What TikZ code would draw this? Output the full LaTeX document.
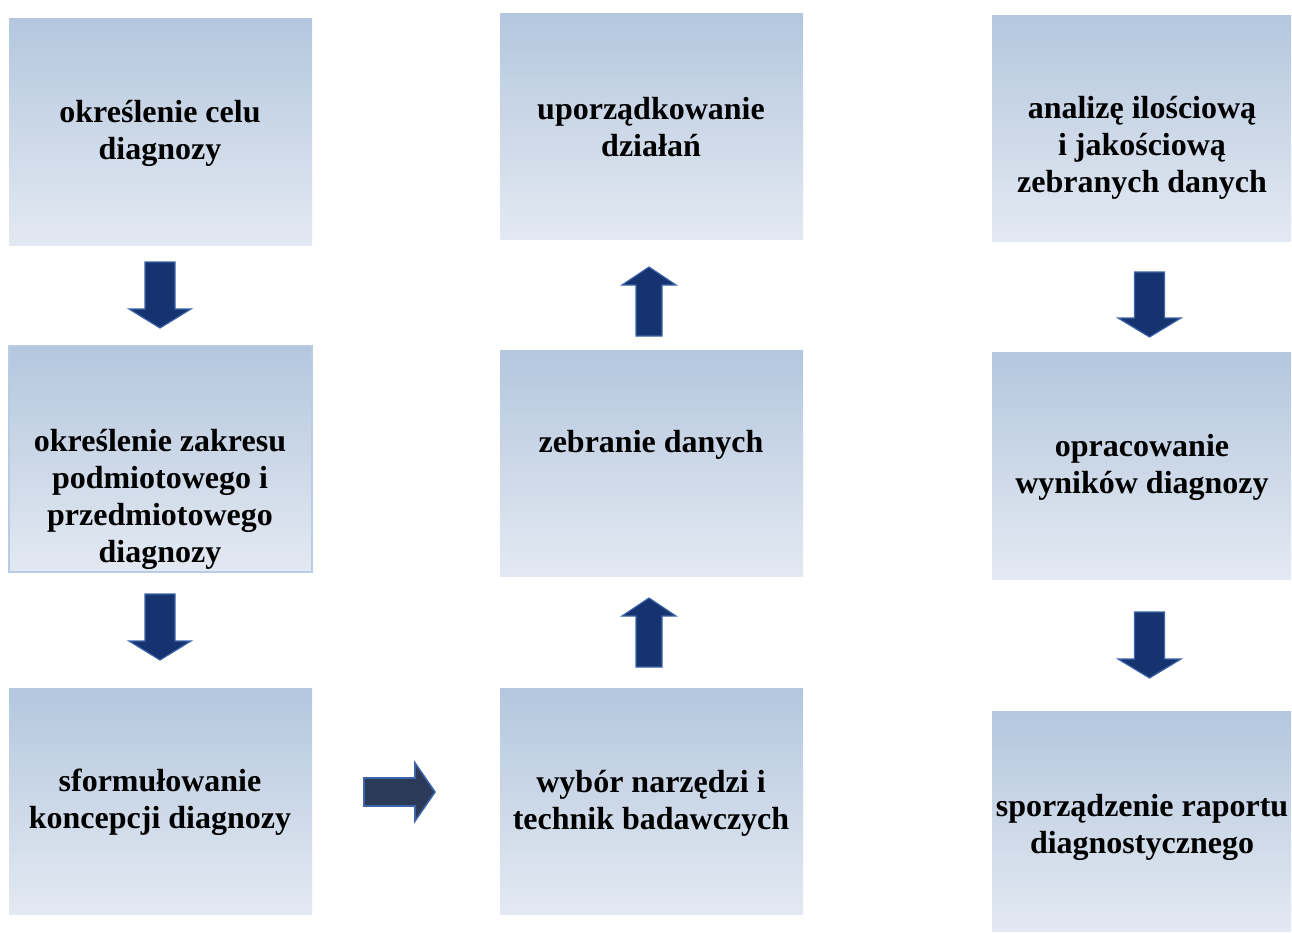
\documentclass[tikz,border=0pt]{standalone}
\usepackage{fontspec}
\setmainfont{Liberation Serif}
\begin{document}
\begin{tikzpicture}[x=1pt,y=-1pt,
  lbl/.style={font=\fontsize{32}{37}\selectfont\bfseries, align=center, text=black},
  darr/.style={fill=arrfill, draw=arrline, line width=1.2pt, line join=miter},
  rarr/.style={fill=arrfill2, draw=arrline, line width=1.6pt, line join=miter}]
\definecolor{boxtop}{HTML}{B4C7DE}
\definecolor{boxbot}{HTML}{E3E9F2}
\definecolor{boxline}{HTML}{B9CCE4}
\definecolor{arrfill}{HTML}{15346F}
\definecolor{arrfill2}{HTML}{2A3A58}
\definecolor{arrline}{HTML}{3C64A8}
\useasboundingbox (0,0) rectangle (1292,932);
\fill[white] (0,0) rectangle (1292,932);
\newcommand\mkbox[5]{\shade[top color=boxtop,bottom color=boxbot] (#2,#3) rectangle (#4,#5); \coordinate (#1) at ({(#2+#4)/2},{(#3+#5)/2});}
% column 1
\mkbox{b1}{9}{18}{312}{245}
\mkbox{b2}{9}{346}{312}{572}
\draw[draw=boxline, line width=1.5pt] (9,346) rectangle (312,572);
\mkbox{b3}{9}{688}{312}{914}
% column 2
\mkbox{c1}{500}{13}{803}{239}
\mkbox{c2}{500}{350}{803}{576}
\mkbox{c3}{500}{688}{803}{914}
% column 3
\mkbox{d1}{992}{15}{1291}{241}
\mkbox{d2}{992}{352}{1291}{579}
\mkbox{d3}{992}{711}{1291}{931}
% labels
\node[lbl] (t1) at (160,133) {określenie celu\\diagnozy};
\node[lbl] (t2) at (160,499) {określenie zakresu\\podmiotowego i\\przedmiotowego\\diagnozy};
\node[lbl] (t3) at (160,802) {sformułowanie\\koncepcji diagnozy};
\node[lbl] (u1) at (651,127) {uporządkowanie\\działań};
\node[lbl] (u2) at (651,445) {zebranie danych};
\node[lbl] (u3) at (651,803) {wybór narzędzi i\\technik badawczych};
\node[lbl] (v1) at (1142,148) {analizę ilościową\\i jakościową\\zebranych danych};
\node[lbl] (v2) at (1142,467) {opracowanie\\wyników diagnozy};
\node[lbl] (v3) at (1142,827) {sporządzenie raportu\\diagnostycznego};
% arrows
\newcommand\dnarrow[7]{% cx, shaft half, top, headbase, head half, tip
  \draw[#7] ({#1-#2},#3) -- ({#1+#2},#3) -- ({#1+#2},#4) -- ({#1+#5},#4) -- (#1,#6) -- ({#1-#5},#4) -- ({#1-#2},#4) -- cycle;}
\dnarrow{160}{15}{262}{309}{31}{328}{darr}
\dnarrow{160}{15}{594}{641}{31}{660}{darr}
\dnarrow{1149.5}{15}{272}{318}{31.5}{337}{darr}
\dnarrow{1149.5}{15}{612}{659}{31.5}{678}{darr}
% up arrows (tip above)
\dnarrow{649}{13}{336}{285}{27}{267}{darr}
\dnarrow{649}{13}{667}{616}{27}{598}{darr}
% right arrow
\draw[rarr] (364,778) -- (415,778) -- (415,763) -- (435,792) -- (415,821) -- (415,806) -- (364,806) -- cycle;
\end{tikzpicture}
\end{document}
